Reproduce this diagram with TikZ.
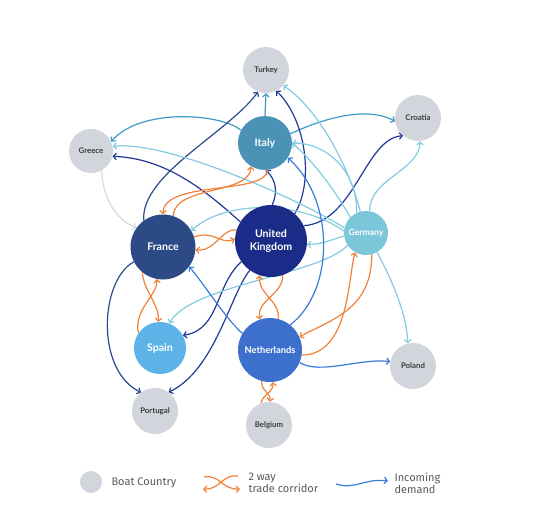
\documentclass[tikz,border=0pt]{standalone}
\usepackage{fontspec}
\setmainfont{Lato}
\newfontfamily\legfont{Fira Sans}
\usetikzlibrary{arrows.meta}
\pgfdeclarelayer{bg}
\pgfsetlayers{bg,main}
\definecolor{greyN}{HTML}{D3D5DD}
\definecolor{itC}{HTML}{4A93B6}
\definecolor{itL}{HTML}{3D9BC5}
\definecolor{frC}{HTML}{2C4A85}
\definecolor{frL}{HTML}{2B4A8F}
\definecolor{ukC}{HTML}{1A2B88}
\definecolor{ukL}{HTML}{213A98}
\definecolor{deC}{HTML}{7CC6DA}
\definecolor{deL}{HTML}{82CBE0}
\definecolor{esC}{HTML}{5DB3E8}
\definecolor{nlC}{HTML}{3D70CC}
\definecolor{nlL}{HTML}{3A7BD8}
\definecolor{orC}{HTML}{F0823A}
\definecolor{grL}{HTML}{D6D9E0}
\definecolor{txtG}{HTML}{3C3C3C}
\definecolor{legT}{HTML}{5A5A5A}
\tikzset{
  boat/.style={circle, fill=greyN, inner sep=0pt, minimum size=46pt, text=txtG,
    font=\bfseries\fontsize{7.8}{9}\selectfont},
  hub/.style={circle, inner sep=0pt, text=white, align=center,
    font=\bfseries\fontsize{10.6}{12.5}\selectfont},
  dem/.style={line width=1.2pt, -{Straight Barb[length=3pt,width=6.5pt]}},
  trade/.style={dem, draw=orC},
  legtext/.style={text=legT, align=left, font=\legfont\fontsize{11}{12}\selectfont}
}
\begin{document}
\begin{tikzpicture}[x=1pt,y=-1pt]
\useasboundingbox (0,0) rectangle (541,532);
% nodes
\node[boat] (tu) at (266,70) {Turkey};
\node[boat] (cr) at (418,118) {Croatia};
\node[boat, minimum size=44pt] (gr) at (91,151) {Greece};
\node[hub, fill=itC, minimum size=54pt] (it) at (265,143) {Italy};
\node[hub, fill=frC, minimum size=65pt] (fr) at (163,247) {France};
\node[hub, fill=ukC, minimum size=72pt] (uk) at (271,241) {United\\Kingdom};
\node[hub, fill=deC, minimum size=44pt, font=\bfseries\fontsize{8.6}{10}\selectfont] (de) at (366,233) {Germany};
\node[hub, fill=esC, minimum size=52pt] (es) at (160,348) {Spain};
\node[hub, fill=nlC, minimum size=64pt, font=\bfseries\fontsize{9.3}{11}\selectfont] (nl) at (270,350) {Netherlands};
\node[boat] (pl) at (413,366) {Poland};
\node[boat] (pt) at (155,411) {Portugal};
\node[boat] (be) at (269,425) {Belgium};
\begin{pgfonlayer}{bg}
\fill[white] (0,0) rectangle (541,532);
% Italy
\draw[dem,itL] (it.90) -- (tu.270);
\draw[dem,itL] (it.152) .. controls (220,113) and (140,108) .. (gr.25);
\draw[dem,itL] (it.20) .. controls (320,120) and (365,105) .. (cr.188);
% France
\draw[dem,frL] (fr.126) .. controls (140,175) and (228,133) .. (tu.250);
\draw[dem,frL] (fr.207) .. controls (100,280) and (95,370) .. (pt.127);
% United Kingdom
\draw[dem,ukL] (uk.148) .. controls (205,190) and (165,158) .. (gr.346);
\draw[dem,ukL] (uk.88) .. controls (278,192) and (276,180) .. (it.272);
\draw[dem,ukL] (uk.49) .. controls (315,180) and (305,118) .. (tu.296);
\draw[dem,ukL] (uk.25) .. controls (355,222) and (365,138) .. (cr.230);
\draw[dem,ukL] (uk.215) .. controls (215,285) and (220,330) .. (es.29);
\draw[dem,ukL] (uk.234) .. controls (230,295) and (215,370) .. (pt.54);
% Germany
\draw[dem,deL] (de.105) .. controls (350,170) and (320,110) .. (tu.318);
\draw[dem,deL] (de.80) .. controls (368,180) and (420,170) .. (cr.275);
\draw[dem,deL] (de.115) .. controls (358,175) and (330,143) .. (it.0);
\draw[dem,deL] (de.135) .. controls (335,190) and (312,160) .. (it.0);
\draw[dem,deL] (de.167) .. controls (310,205) and (170,140) .. (gr.12);
\draw[dem,deL] (de.175) .. controls (300,200) and (225,200) .. (fr.30);
\draw[dem,deL] (de.188) .. controls (330,240) and (320,245) .. (uk.355);
\draw[dem,deL] (de.214) .. controls (320,275) and (190,285) .. (es.69);
\draw[dem,deL] (de.300) .. controls (392,280) and (407,315) .. (pl.103);
% Netherlands
\draw[dem,nlL] (nl.149) .. controls (225,318) and (205,285) .. (fr.323);
\draw[dem,nlL] (nl.51) .. controls (335,290) and (335,200) .. (it.327);
\draw[dem,nlL] (nl.337) .. controls (320,375) and (360,358) .. (pl.169);
% Greece
\draw[dem,grL] (gr.299) .. controls (102,195) and (115,220) .. (fr.144);
% trade corridors
\draw[trade] (it.275) .. controls (267,195) and (163,180) .. (fr.90);
\draw[trade] (fr.72) .. controls (175,185) and (250,195) .. (it.239);
\draw[trade] (uk.162) .. controls (222,228) and (215,252) .. (fr.355);
\draw[trade] (fr.18) .. controls (215,230) and (220,245) .. (uk.177);
\draw[trade] (es.145) .. controls (133,310) and (158,295) .. (fr.259);
\draw[trade] (fr.231) .. controls (143,290) and (160,305) .. (es.94);
\draw[trade] (nl.75) .. controls (280,300) and (258,295) .. (uk.252);
\draw[trade] (uk.289) .. controls (283,295) and (256,300) .. (nl.108);
\draw[trade] (nl.351) .. controls (350,355) and (348,275) .. (de.241);
\draw[trade] (de.285) .. controls (372,310) and (330,320) .. (nl.24);
\draw[trade] (be.110) .. controls (262,395) and (274,392) .. (nl.275);
\draw[trade] (nl.255) .. controls (261,392) and (271,392) .. (be.88);
\end{pgfonlayer}
% legend
\node[circle, fill=greyN, minimum size=22pt, inner sep=0pt] (lg) at (91,482) {};
\node[anchor=west, legtext] (lgt) at (108,483) {Boat Country};
\coordinate (oa1) at (238,476);
\coordinate (oa2) at (203,489);
\coordinate (ob1) at (204,477);
\coordinate (ob2) at (240,489);
\draw[trade] (oa1) .. controls (222,474) and (220,490) .. (oa2);
\draw[trade] (ob1) .. controls (220,474) and (222,490) .. (ob2);
\node[anchor=west, legtext] (lgt2) at (245,483) {2 way\\trade corridor};
\coordinate (ba) at (336,484);
\coordinate (bb) at (388,481);
\draw[dem,nlL] (ba) .. controls (355,490) and (365,478) .. (bb);
\node[anchor=west, legtext] (lgt3) at (391,483) {Incoming\\demand};
\end{tikzpicture}
\end{document}
